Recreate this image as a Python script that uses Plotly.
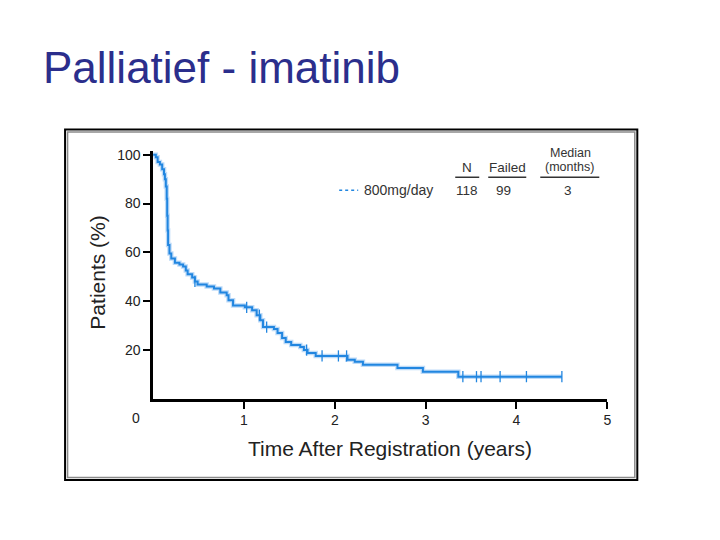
import plotly.graph_objects as go

# Kaplan-Meier curve (years, % patients)
time_years = [0, 0.03, 0.05, 0.075, 0.10, 0.12, 0.13, 0.14, 0.15, 0.155, 0.16, 0.165,
              0.18, 0.20, 0.24, 0.29, 0.33, 0.36, 0.38, 0.43, 0.46, 0.49, 0.59, 0.67,
              0.74, 0.81, 0.83, 0.88, 1.01, 1.09, 1.14, 1.18, 1.21, 1.33, 1.37, 1.42,
              1.46, 1.52, 1.62, 1.66, 1.70, 1.79, 2.14, 2.22, 2.31, 2.69, 2.97, 3.36, 4.50]
patients_pct = [100, 99, 97, 96, 94, 92, 90, 87, 82, 75, 69, 63,
                59.5, 57.5, 55.8, 55, 54.2, 52.6, 51, 49.7, 48.1, 46.9, 46, 45.2,
                43.6, 42.4, 40.4, 38.3, 37.5, 36.3, 34.3, 32.2, 29.4, 28.6, 27, 24.9,
                23.3, 22.1, 21.3, 20, 18.8, 17.6, 16, 15.2, 14, 12.7, 11.1, 9.1, 9.1]

# censored observations
censor_years = [0.46, 1.03, 1.17, 1.25, 1.69, 1.86, 2.04, 2.13, 3.41, 3.56, 3.61, 3.82, 4.11, 4.50]
censor_pct = [48.1, 37.5, 34.3, 29.4, 20, 17.6, 17.6, 17.6, 9.1, 9.1, 9.1, 9.1, 9.1, 9.1]

x_ticks = [1, 2, 3, 4, 5]
y_ticks = [20, 40, 60, 80, 100]

group_label = "800mg/day"
table_headers = ["N", "Failed", "(months)"]
table_values = ["118", "99", "3"]

W, H = 720, 540
OX, OY = 8, 9.5  # page margin around the plot div
SX = 1.006       # small horizontal correction of the screenshot
BLUE = "#2186e0"
FONT = "Liberation Sans, Arial, sans-serif"


def px(x):
    return (x * SX - OX) / W


def py(y):
    return 1 - (y - OY) / H


fig = go.Figure()

# soft halo behind the curve, like the scanned original
fig.add_trace(go.Scatter(
    x=time_years, y=patients_pct, mode="lines", line_shape="hv",
    line=dict(color="rgba(110,175,240,0.45)", width=4.5), hoverinfo="skip",
))
fig.add_trace(go.Scatter(
    x=time_years, y=patients_pct, mode="lines", line_shape="hv",
    line=dict(color=BLUE, width=2),
))
fig.add_trace(go.Scatter(
    x=censor_years, y=censor_pct, mode="markers",
    marker=dict(symbol="line-ns", size=8, line=dict(color=BLUE, width=1.3)),
))

fig.update_layout(
    width=W, height=H,
    margin=dict(l=0, r=0, t=0, b=0),
    paper_bgcolor="white", plot_bgcolor="white",
    showlegend=False,
    font=dict(family=FONT, color="#222"),
)

fig.update_xaxes(
    domain=[px(153), px(607)], range=[0, 5],
    tickvals=x_ticks, ticks="outside", ticklen=7, tickwidth=2, tickcolor="black",
    showline=True, linewidth=2.5, linecolor="black",
    showgrid=False, zeroline=False,
    tickfont=dict(family=FONT, size=14, color="#222"),
)
fig.update_yaxes(
    domain=[py(399.3), py(149.6)], range=[0, 101.5],
    tickvals=y_ticks, ticks="outside", ticklen=7, tickwidth=1.5, tickcolor="black",
    showline=True, linewidth=2.5, linecolor="black",
    showgrid=False, zeroline=False,
    tickfont=dict(family=FONT, size=14, color="#222"),
)

# frame around the pasted figure
fig.add_shape(type="rect", xref="paper", yref="paper",
              x0=px(65), x1=px(637), y0=py(481), y1=py(128),
              line=dict(color="black", width=2))
fig.add_shape(type="rect", xref="paper", yref="paper",
              x0=px(67.5), x1=px(634.5), y0=py(478.5), y1=py(130.5),
              line=dict(color="#8a8a8a", width=1.5))

ann = []
# slide title
ann.append(dict(text="Palliatief - imatinib", x=px(41), y=py(65), xanchor="left", yanchor="middle",
                font=dict(family=FONT, size=44, color="#2B2E8C")))
# axis titles and origin label
ann.append(dict(text="Time After Registration (years)", x=px(390), y=py(449),
                xanchor="center", yanchor="middle", font=dict(family=FONT, size=21, color="#222")))
ann.append(dict(text="Patients (%)", x=px(97), y=py(272), textangle=-90,
                xanchor="center", yanchor="middle", font=dict(family=FONT, size=21, color="#222")))
ann.append(dict(text="0", x=px(136), y=py(419), xanchor="center", yanchor="middle",
                font=dict(family=FONT, size=14, color="#222")))

# legend table
ann.append(dict(text=group_label, x=px(362), y=py(189), xanchor="left", yanchor="middle",
                font=dict(family=FONT, size=14, color="#333")))
ann.append(dict(text="Median", x=px(570), y=py(152), xanchor="center", yanchor="middle",
                font=dict(family=FONT, size=12.5, color="#333")))
for txt, val, cx, vx in zip(table_headers, table_values, [467, 507, 569], [467, 503, 568]):
    ann.append(dict(text=txt, x=px(cx), y=py(166), xanchor="center", yanchor="middle",
                    font=dict(family=FONT, size=13.5 if txt != "(months)" else 12.5, color="#333")))
    ann.append(dict(text=val, x=px(vx), y=py(189), xanchor="center", yanchor="middle",
                    font=dict(family=FONT, size=13.5, color="#333")))
for a in ann:
    a.update(xref="paper", yref="paper", showarrow=False)
fig.update_layout(annotations=ann)

for x0, x1 in [(455, 479), (488, 526), (540, 599)]:
    fig.add_shape(type="line", xref="paper", yref="paper",
                  x0=px(x0), x1=px(x1), y0=py(176), y1=py(176),
                  line=dict(color="#333", width=1.5))
fig.add_shape(type="line", xref="paper", yref="paper",
              x0=px(339), x1=px(358), y0=py(189), y1=py(189),
              line=dict(color=BLUE, width=1.5, dash="dot"))

fig.write_html("out.html")
